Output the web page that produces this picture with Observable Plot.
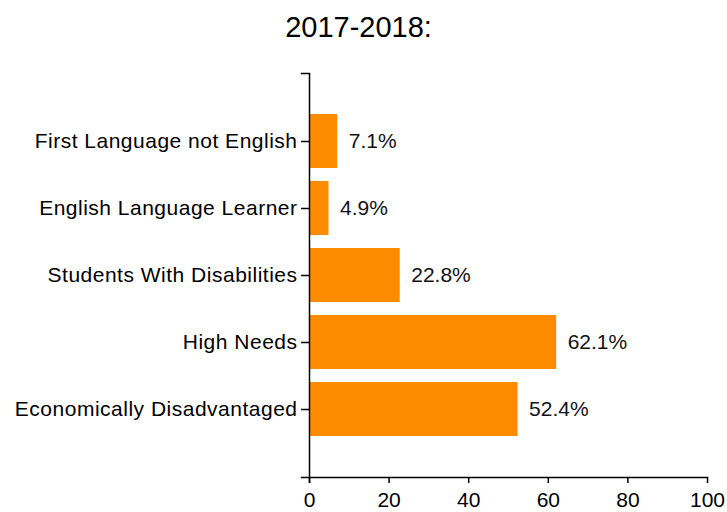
<!DOCTYPE html>
<html>
<head>
<meta charset="utf-8">
<script src="https://cdn.jsdelivr.net/npm/d3@7"></script>
<script src="https://cdn.jsdelivr.net/npm/@observablehq/plot@0.6"></script>
<style>
  html, body { margin: 0; padding: 0; background: #fff; }
  #chart { width: 727px; font-family: "Liberation Sans", Arial, sans-serif; }
  .title {
    height: 50px; line-height: 50px; text-align: center;
    padding-right: 10px; font-size: 29px; color: #000;
    position: relative; top: 2px;
  }
  #chart g[aria-label="y-axis tick label"] text { letter-spacing: 0.5px; }
</style>
</head>
<body>
<div id="chart">
  <div class="title">2017-2018:</div>
</div>
<script>
// Student population shares, 2017-2018
const categories = [
  "First Language not English",
  "English Language Learner",
  "Students With Disabilities",
  "High Needs",
  "Economically Disadvantaged"
];
const percents = [7.1, 4.9, 22.8, 62.1, 52.4];
const xTicks = [0, 20, 40, 60, 80, 100];

const rows = categories.map((c, i) => ({category: c, value: percents[i]}));

const plot = Plot.plot({
  width: 727,
  height: 462,
  marginTop: 23,
  marginBottom: 35,
  marginLeft: 309,
  marginRight: 20,
  style: {fontFamily: "'Liberation Sans', Arial, sans-serif", color: "#000", background: "#fff", overflow: "visible"},
  x: {domain: [0, 100], ticks: xTicks},
  y: {domain: categories, paddingInner: 0.2, paddingOuter: 0.6},
  marks: [
    Plot.barX(rows, {x: "value", y: "category", fill: "#FF8C00"}),
    Plot.text(rows, {
      x: "value", y: "category",
      text: d => d.value.toFixed(1) + "%",
      textAnchor: "start", dx: 11, fontSize: 21, fill: "#111"
    }),
    // axis lines with outer ticks
    Plot.ruleX([0], {stroke: "#000", strokeWidth: 1.5, insetBottom: -6}),
    Plot.frame({anchor: "bottom", stroke: "#000", strokeWidth: 1.5, insetLeft: -8}),
    Plot.frame({anchor: "top", stroke: "#000", strokeWidth: 1.5, insetLeft: -8, insetRight: 398}),
    Plot.axisY({tickSize: 8, tickPadding: 4, fontSize: 21, label: null, strokeWidth: 1.5}),
    Plot.axisX({ticks: xTicks, tickSize: 6, tickPadding: 9, fontSize: 21, label: null, strokeWidth: 1.5})
  ]
});

document.getElementById("chart").appendChild(plot);
</script>
</body>
</html>
